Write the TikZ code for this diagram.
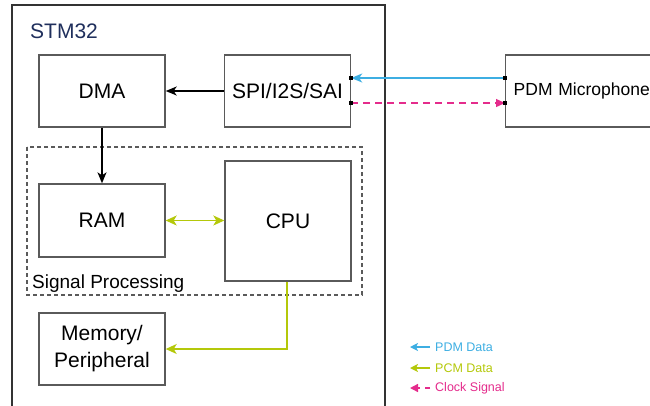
\documentclass[tikz,border=0pt]{standalone}
\usepackage{fontspec}
\setmainfont{Liberation Sans}
\usetikzlibrary{arrows.meta}
\definecolor{boxgray}{HTML}{5A5A5A}
\definecolor{outergray}{HTML}{333333}
\definecolor{pdmblue}{HTML}{3DAEE2}
\definecolor{pcmgreen}{HTML}{B4C80A}
\definecolor{clkmag}{HTML}{E42C8C}
\definecolor{navy}{HTML}{1F2F5C}
\tikzset{
  blk/.style={draw=boxgray, line width=1.4pt, minimum width=126pt, inner sep=0pt, font=\fontsize{21}{25}\selectfont, align=center},
  lbl/.style={inner sep=0pt, anchor=base west},
  blackarrow/.style={draw=black, line width=1.3pt, -{Stealth[length=11pt,width=9pt,inset=3pt]}},
  bluearrow/.style={draw=pdmblue, line width=1.3pt, -{Stealth[length=11pt,width=9pt,inset=3pt]}},
  greenarrow/.style={draw=pcmgreen, line width=1.3pt, -{Stealth[length=11pt,width=10pt,inset=3pt]}},
  greenboth/.style={draw=pcmgreen, line width=1.3pt, {Stealth[length=11pt,width=10pt,inset=3pt]}-{Stealth[length=11pt,width=10pt,inset=3pt]}},
  magarrow/.style={draw=clkmag, line width=1.3pt, dash pattern=on 7pt off 5pt, -{Triangle[length=9pt,width=8pt]}},
  legtext/.style={inner sep=0pt, anchor=west, font=\fontsize{12.5}{14}\selectfont},
  pin/.style={fill=black}
}
\begin{document}
\begin{tikzpicture}[x=1pt,y=-1pt]
\useasboundingbox (0,0) rectangle (650,405);
% outer STM32 box
\draw[draw=outergray, line width=1.6pt] (12,420) -- (12,5) -- (385,5) -- (385,420);
\node[lbl, text=navy, font=\fontsize{21}{25}\selectfont] (stmlabel) at (30,38) {STM32};
% signal processing dashed box
\draw[draw=boxgray, line width=1.1pt, dash pattern=on 4pt off 3pt] (27,147) rectangle (362,295);
\node[lbl, font=\fontsize{19}{22}\selectfont] (splabel) at (32,288) {Signal Processing};
% blocks
\node[blk, minimum height=72pt] (dma) at (102,91) {DMA};
\node[blk, minimum height=72pt] (spi) at (287.5,91) {SPI/I2S/SAI};
\node[blk, minimum height=73pt] (ram) at (102,220.5) {RAM};
\node[blk, minimum height=120pt] (cpu) at (288,221) {CPU};
\node[blk, minimum height=72pt, font=\fontsize{21}{27}\selectfont] (mem) at (102,349) {Memory/\\Peripheral};
\node[draw=boxgray, line width=1.4pt, minimum height=72pt, inner xsep=8pt, inner ysep=0pt,
      text width=144pt, align=left, anchor=west, font=\fontsize{17.5}{21}\selectfont] (mic) at (505,91) {PDM Microphone};
% connectors
\draw[blackarrow] (spi.west) -- (dma.east);
\draw[blackarrow] (dma.south) -- (ram.north);
\draw[greenboth] (ram.east) -- (cpu.west |- ram.east);
\draw[greenarrow] ([xshift=-1pt]cpu.south) |- (mem.east);
\draw[bluearrow] ([yshift=13pt]mic.west) -- ([yshift=13pt]spi.east);
\draw[magarrow] ([yshift=-12pt]spi.east) -- ([yshift=-12pt]mic.west);
% pins
\fill[pin] ([yshift=13pt]spi.east) ++(-2.2,-2.2) rectangle ++(4.4,4.4);
\fill[pin] ([yshift=-12pt]spi.east) ++(-2.2,-2.2) rectangle ++(4.4,4.4);
\fill[pin] ([yshift=13pt]mic.west) ++(-2.2,-2.2) rectangle ++(4.4,4.4);
\fill[pin] ([yshift=-12pt]mic.west) ++(-2.2,-2.2) rectangle ++(4.4,4.4);
% legend
\coordinate (l1s) at (430,347);
\coordinate (l1e) at (410,347);
\coordinate (l2s) at (430,368);
\coordinate (l2e) at (410,368);
\coordinate (l3s) at (430,388);
\coordinate (l3e) at (410,388);
\draw[bluearrow, line width=1.4pt, -{Stealth[length=8pt,width=8pt,inset=2pt]}] (l1s) -- (l1e);
\draw[greenarrow, line width=1.4pt, -{Stealth[length=8pt,width=8pt,inset=2pt]}] (l2s) -- (l2e);
\draw[magarrow, line width=1.4pt, dash pattern=on 5pt off 5pt, -{Triangle[length=8pt,width=8pt]}] (l3s) -- (l3e);
\node[legtext, text=pdmblue] (t1) at (435,347) {PDM Data};
\node[legtext, text=pcmgreen] (t2) at (435,368) {PCM Data};
\node[legtext, text=clkmag] (t3) at (435,388) {Clock Signal};
\end{tikzpicture}
\end{document}
